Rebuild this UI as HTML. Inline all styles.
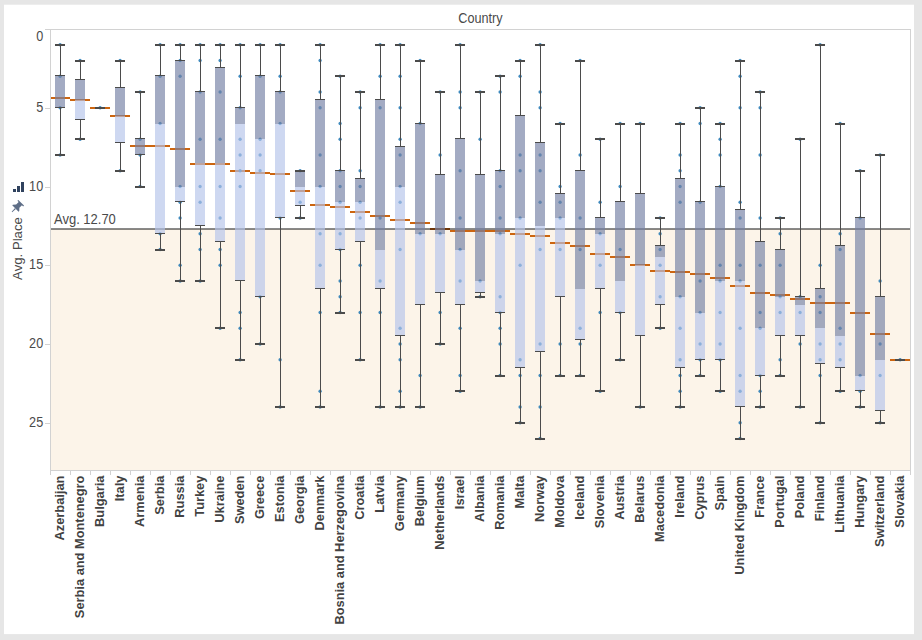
<!DOCTYPE html>
<html><head><meta charset="utf-8"><title>Country</title>
<style>
html,body{margin:0;padding:0;background:#e6e6e6;}
body{width:922px;height:640px;overflow:hidden;position:relative;font-family:"Liberation Sans",sans-serif;}
svg{position:absolute;left:0;top:0;display:block;}
text{font-family:"Liberation Sans",sans-serif;font-size:13px;fill:#4a4a4a;}
.b{font-weight:bold;fill:#424242;}
</style></head><body>
<svg width="922" height="640" viewBox="0 0 922 640">
<rect x="0" y="0" width="922" height="640" fill="#e6e6e6"/>
<rect x="4" y="4.7" width="910" height="629.4" fill="#ffffff"/>
<rect x="51" y="229" width="860" height="242" fill="#fcf4e9"/>
<g shape-rendering="crispEdges" fill="#cc6510">
<rect x="50" y="97" width="20" height="2" />
<rect x="70" y="99" width="20" height="2" />
<rect x="90" y="107" width="20" height="2" />
<rect x="110" y="115" width="20" height="2" />
<rect x="130" y="145" width="20" height="2" />
<rect x="150" y="145" width="20" height="2" />
<rect x="170" y="148" width="20" height="2" />
<rect x="190" y="163" width="20" height="2" />
<rect x="210" y="163" width="20" height="2" />
<rect x="230" y="170" width="20" height="2" />
<rect x="250" y="172" width="20" height="2" />
<rect x="270" y="173" width="20" height="2" />
<rect x="290" y="190" width="20" height="2" />
<rect x="310" y="204" width="20" height="2" />
<rect x="330" y="206" width="20" height="2" />
<rect x="350" y="211" width="20" height="2" />
<rect x="370" y="215" width="20" height="2" />
<rect x="390" y="219" width="20" height="2" />
<rect x="410" y="222" width="20" height="2" />
<rect x="430" y="228" width="20" height="2" />
<rect x="450" y="230" width="20" height="2" />
<rect x="470" y="230" width="20" height="2" />
<rect x="490" y="230" width="20" height="2" />
<rect x="510" y="233" width="20" height="2" />
<rect x="530" y="235" width="20" height="2" />
<rect x="550" y="242" width="20" height="2" />
<rect x="570" y="245" width="20" height="2" />
<rect x="590" y="253" width="20" height="2" />
<rect x="610" y="256" width="20" height="2" />
<rect x="630" y="264" width="20" height="2" />
<rect x="650" y="270" width="20" height="2" />
<rect x="670" y="271" width="20" height="2" />
<rect x="690" y="273" width="20" height="2" />
<rect x="710" y="277" width="20" height="2" />
<rect x="730" y="285" width="20" height="2" />
<rect x="750" y="292" width="20" height="2" />
<rect x="770" y="294" width="20" height="2" />
<rect x="790" y="298" width="20" height="2" />
<rect x="810" y="302" width="20" height="2" />
<rect x="830" y="302" width="20" height="2" />
<rect x="850" y="312" width="20" height="2" />
<rect x="870" y="333" width="20" height="2" />
<rect x="890" y="359" width="20" height="2" />
</g>
<rect x="51" y="228" width="860" height="2" fill="#000000" fill-opacity="0.46" shape-rendering="crispEdges"/>
<g fill="#1f77b4" fill-opacity="0.85">
<circle cx="60.1" cy="44.75" r="1.65"/>
<circle cx="60.1" cy="76.25" r="1.65"/>
<circle cx="60.1" cy="107.75" r="1.65"/>
<circle cx="60.1" cy="155.00" r="1.65"/>
<circle cx="80.1" cy="60.50" r="1.65"/>
<circle cx="80.1" cy="139.25" r="1.65"/>
<circle cx="100.1" cy="107.75" r="1.65"/>
<circle cx="120.1" cy="60.50" r="1.65"/>
<circle cx="120.1" cy="170.75" r="1.65"/>
<circle cx="140.1" cy="92.00" r="1.65"/>
<circle cx="140.1" cy="139.25" r="1.65"/>
<circle cx="140.1" cy="155.00" r="1.65"/>
<circle cx="140.1" cy="186.50" r="1.65"/>
<circle cx="160.1" cy="44.75" r="1.65"/>
<circle cx="160.1" cy="76.25" r="1.65"/>
<circle cx="160.1" cy="123.50" r="1.65"/>
<circle cx="160.1" cy="233.75" r="1.65"/>
<circle cx="160.1" cy="249.50" r="1.65"/>
<circle cx="180.1" cy="44.75" r="1.65"/>
<circle cx="180.1" cy="60.50" r="1.65"/>
<circle cx="180.1" cy="76.25" r="1.65"/>
<circle cx="180.1" cy="186.50" r="1.65"/>
<circle cx="180.1" cy="202.25" r="1.65"/>
<circle cx="180.1" cy="218.00" r="1.65"/>
<circle cx="180.1" cy="265.25" r="1.65"/>
<circle cx="180.1" cy="281.00" r="1.65"/>
<circle cx="200.1" cy="44.75" r="1.65"/>
<circle cx="200.1" cy="60.50" r="1.65"/>
<circle cx="200.1" cy="92.00" r="1.65"/>
<circle cx="200.1" cy="139.25" r="1.65"/>
<circle cx="200.1" cy="186.50" r="1.65"/>
<circle cx="200.1" cy="202.25" r="1.65"/>
<circle cx="200.1" cy="233.75" r="1.65"/>
<circle cx="200.1" cy="249.50" r="1.65"/>
<circle cx="200.1" cy="281.00" r="1.65"/>
<circle cx="220.1" cy="44.75" r="1.65"/>
<circle cx="220.1" cy="60.50" r="1.65"/>
<circle cx="220.1" cy="92.00" r="1.65"/>
<circle cx="220.1" cy="139.25" r="1.65"/>
<circle cx="220.1" cy="186.50" r="1.65"/>
<circle cx="220.1" cy="218.00" r="1.65"/>
<circle cx="220.1" cy="249.50" r="1.65"/>
<circle cx="220.1" cy="265.25" r="1.65"/>
<circle cx="220.1" cy="328.25" r="1.65"/>
<circle cx="240.1" cy="44.75" r="1.65"/>
<circle cx="240.1" cy="76.25" r="1.65"/>
<circle cx="240.1" cy="107.75" r="1.65"/>
<circle cx="240.1" cy="139.25" r="1.65"/>
<circle cx="240.1" cy="155.00" r="1.65"/>
<circle cx="240.1" cy="170.75" r="1.65"/>
<circle cx="240.1" cy="186.50" r="1.65"/>
<circle cx="240.1" cy="312.50" r="1.65"/>
<circle cx="240.1" cy="328.25" r="1.65"/>
<circle cx="240.1" cy="359.75" r="1.65"/>
<circle cx="260.1" cy="44.75" r="1.65"/>
<circle cx="260.1" cy="76.25" r="1.65"/>
<circle cx="260.1" cy="139.25" r="1.65"/>
<circle cx="260.1" cy="155.00" r="1.65"/>
<circle cx="260.1" cy="170.75" r="1.65"/>
<circle cx="260.1" cy="296.75" r="1.65"/>
<circle cx="260.1" cy="344.00" r="1.65"/>
<circle cx="280.1" cy="44.75" r="1.65"/>
<circle cx="280.1" cy="76.25" r="1.65"/>
<circle cx="280.1" cy="92.00" r="1.65"/>
<circle cx="280.1" cy="123.50" r="1.65"/>
<circle cx="280.1" cy="218.00" r="1.65"/>
<circle cx="280.1" cy="359.75" r="1.65"/>
<circle cx="280.1" cy="407.00" r="1.65"/>
<circle cx="300.1" cy="170.75" r="1.65"/>
<circle cx="300.1" cy="202.25" r="1.65"/>
<circle cx="300.1" cy="218.00" r="1.65"/>
<circle cx="320.1" cy="44.75" r="1.65"/>
<circle cx="320.1" cy="60.50" r="1.65"/>
<circle cx="320.1" cy="92.00" r="1.65"/>
<circle cx="320.1" cy="107.75" r="1.65"/>
<circle cx="320.1" cy="155.00" r="1.65"/>
<circle cx="320.1" cy="186.50" r="1.65"/>
<circle cx="320.1" cy="233.75" r="1.65"/>
<circle cx="320.1" cy="265.25" r="1.65"/>
<circle cx="320.1" cy="312.50" r="1.65"/>
<circle cx="320.1" cy="391.25" r="1.65"/>
<circle cx="320.1" cy="407.00" r="1.65"/>
<circle cx="340.1" cy="76.25" r="1.65"/>
<circle cx="340.1" cy="123.50" r="1.65"/>
<circle cx="340.1" cy="139.25" r="1.65"/>
<circle cx="340.1" cy="170.75" r="1.65"/>
<circle cx="340.1" cy="186.50" r="1.65"/>
<circle cx="340.1" cy="202.25" r="1.65"/>
<circle cx="340.1" cy="233.75" r="1.65"/>
<circle cx="340.1" cy="249.50" r="1.65"/>
<circle cx="340.1" cy="281.00" r="1.65"/>
<circle cx="340.1" cy="296.75" r="1.65"/>
<circle cx="340.1" cy="312.50" r="1.65"/>
<circle cx="360.1" cy="92.00" r="1.65"/>
<circle cx="360.1" cy="107.75" r="1.65"/>
<circle cx="360.1" cy="170.75" r="1.65"/>
<circle cx="360.1" cy="186.50" r="1.65"/>
<circle cx="360.1" cy="202.25" r="1.65"/>
<circle cx="360.1" cy="218.00" r="1.65"/>
<circle cx="360.1" cy="265.25" r="1.65"/>
<circle cx="360.1" cy="312.50" r="1.65"/>
<circle cx="360.1" cy="359.75" r="1.65"/>
<circle cx="380.1" cy="44.75" r="1.65"/>
<circle cx="380.1" cy="76.25" r="1.65"/>
<circle cx="380.1" cy="107.75" r="1.65"/>
<circle cx="380.1" cy="218.00" r="1.65"/>
<circle cx="380.1" cy="281.00" r="1.65"/>
<circle cx="380.1" cy="312.50" r="1.65"/>
<circle cx="380.1" cy="407.00" r="1.65"/>
<circle cx="400.1" cy="44.75" r="1.65"/>
<circle cx="400.1" cy="76.25" r="1.65"/>
<circle cx="400.1" cy="107.75" r="1.65"/>
<circle cx="400.1" cy="139.25" r="1.65"/>
<circle cx="400.1" cy="155.00" r="1.65"/>
<circle cx="400.1" cy="186.50" r="1.65"/>
<circle cx="400.1" cy="202.25" r="1.65"/>
<circle cx="400.1" cy="249.50" r="1.65"/>
<circle cx="400.1" cy="328.25" r="1.65"/>
<circle cx="400.1" cy="344.00" r="1.65"/>
<circle cx="400.1" cy="359.75" r="1.65"/>
<circle cx="400.1" cy="391.25" r="1.65"/>
<circle cx="400.1" cy="407.00" r="1.65"/>
<circle cx="420.1" cy="60.50" r="1.65"/>
<circle cx="420.1" cy="123.50" r="1.65"/>
<circle cx="420.1" cy="233.75" r="1.65"/>
<circle cx="420.1" cy="375.50" r="1.65"/>
<circle cx="420.1" cy="407.00" r="1.65"/>
<circle cx="440.1" cy="92.00" r="1.65"/>
<circle cx="440.1" cy="155.00" r="1.65"/>
<circle cx="440.1" cy="233.75" r="1.65"/>
<circle cx="440.1" cy="312.50" r="1.65"/>
<circle cx="440.1" cy="344.00" r="1.65"/>
<circle cx="460.1" cy="44.75" r="1.65"/>
<circle cx="460.1" cy="92.00" r="1.65"/>
<circle cx="460.1" cy="107.75" r="1.65"/>
<circle cx="460.1" cy="170.75" r="1.65"/>
<circle cx="460.1" cy="218.00" r="1.65"/>
<circle cx="460.1" cy="249.50" r="1.65"/>
<circle cx="460.1" cy="281.00" r="1.65"/>
<circle cx="460.1" cy="328.25" r="1.65"/>
<circle cx="460.1" cy="375.50" r="1.65"/>
<circle cx="460.1" cy="391.25" r="1.65"/>
<circle cx="480.1" cy="92.00" r="1.65"/>
<circle cx="480.1" cy="139.25" r="1.65"/>
<circle cx="480.1" cy="281.00" r="1.65"/>
<circle cx="480.1" cy="296.75" r="1.65"/>
<circle cx="500.1" cy="76.25" r="1.65"/>
<circle cx="500.1" cy="92.00" r="1.65"/>
<circle cx="500.1" cy="170.75" r="1.65"/>
<circle cx="500.1" cy="186.50" r="1.65"/>
<circle cx="500.1" cy="218.00" r="1.65"/>
<circle cx="500.1" cy="233.75" r="1.65"/>
<circle cx="500.1" cy="296.75" r="1.65"/>
<circle cx="500.1" cy="312.50" r="1.65"/>
<circle cx="500.1" cy="328.25" r="1.65"/>
<circle cx="500.1" cy="344.00" r="1.65"/>
<circle cx="500.1" cy="375.50" r="1.65"/>
<circle cx="520.1" cy="60.50" r="1.65"/>
<circle cx="520.1" cy="76.25" r="1.65"/>
<circle cx="520.1" cy="155.00" r="1.65"/>
<circle cx="520.1" cy="170.75" r="1.65"/>
<circle cx="520.1" cy="218.00" r="1.65"/>
<circle cx="520.1" cy="265.25" r="1.65"/>
<circle cx="520.1" cy="359.75" r="1.65"/>
<circle cx="520.1" cy="375.50" r="1.65"/>
<circle cx="520.1" cy="407.00" r="1.65"/>
<circle cx="520.1" cy="422.75" r="1.65"/>
<circle cx="540.1" cy="44.75" r="1.65"/>
<circle cx="540.1" cy="92.00" r="1.65"/>
<circle cx="540.1" cy="107.75" r="1.65"/>
<circle cx="540.1" cy="155.00" r="1.65"/>
<circle cx="540.1" cy="170.75" r="1.65"/>
<circle cx="540.1" cy="202.25" r="1.65"/>
<circle cx="540.1" cy="249.50" r="1.65"/>
<circle cx="540.1" cy="344.00" r="1.65"/>
<circle cx="540.1" cy="375.50" r="1.65"/>
<circle cx="540.1" cy="407.00" r="1.65"/>
<circle cx="540.1" cy="438.50" r="1.65"/>
<circle cx="560.1" cy="123.50" r="1.65"/>
<circle cx="560.1" cy="186.50" r="1.65"/>
<circle cx="560.1" cy="202.25" r="1.65"/>
<circle cx="560.1" cy="218.00" r="1.65"/>
<circle cx="560.1" cy="249.50" r="1.65"/>
<circle cx="560.1" cy="344.00" r="1.65"/>
<circle cx="560.1" cy="375.50" r="1.65"/>
<circle cx="580.1" cy="60.50" r="1.65"/>
<circle cx="580.1" cy="155.00" r="1.65"/>
<circle cx="580.1" cy="218.00" r="1.65"/>
<circle cx="580.1" cy="249.50" r="1.65"/>
<circle cx="580.1" cy="328.25" r="1.65"/>
<circle cx="580.1" cy="344.00" r="1.65"/>
<circle cx="580.1" cy="375.50" r="1.65"/>
<circle cx="600.1" cy="139.25" r="1.65"/>
<circle cx="600.1" cy="202.25" r="1.65"/>
<circle cx="600.1" cy="233.75" r="1.65"/>
<circle cx="600.1" cy="265.25" r="1.65"/>
<circle cx="600.1" cy="312.50" r="1.65"/>
<circle cx="600.1" cy="391.25" r="1.65"/>
<circle cx="620.1" cy="123.50" r="1.65"/>
<circle cx="620.1" cy="186.50" r="1.65"/>
<circle cx="620.1" cy="249.50" r="1.65"/>
<circle cx="620.1" cy="312.50" r="1.65"/>
<circle cx="620.1" cy="359.75" r="1.65"/>
<circle cx="640.1" cy="123.50" r="1.65"/>
<circle cx="640.1" cy="407.00" r="1.65"/>
<circle cx="660.1" cy="218.00" r="1.65"/>
<circle cx="660.1" cy="233.75" r="1.65"/>
<circle cx="660.1" cy="249.50" r="1.65"/>
<circle cx="660.1" cy="265.25" r="1.65"/>
<circle cx="660.1" cy="296.75" r="1.65"/>
<circle cx="660.1" cy="328.25" r="1.65"/>
<circle cx="680.1" cy="123.50" r="1.65"/>
<circle cx="680.1" cy="155.00" r="1.65"/>
<circle cx="680.1" cy="170.75" r="1.65"/>
<circle cx="680.1" cy="186.50" r="1.65"/>
<circle cx="680.1" cy="202.25" r="1.65"/>
<circle cx="680.1" cy="296.75" r="1.65"/>
<circle cx="680.1" cy="328.25" r="1.65"/>
<circle cx="680.1" cy="359.75" r="1.65"/>
<circle cx="680.1" cy="375.50" r="1.65"/>
<circle cx="680.1" cy="391.25" r="1.65"/>
<circle cx="680.1" cy="407.00" r="1.65"/>
<circle cx="700.1" cy="107.75" r="1.65"/>
<circle cx="700.1" cy="123.50" r="1.65"/>
<circle cx="700.1" cy="202.25" r="1.65"/>
<circle cx="700.1" cy="281.00" r="1.65"/>
<circle cx="700.1" cy="312.50" r="1.65"/>
<circle cx="700.1" cy="344.00" r="1.65"/>
<circle cx="700.1" cy="359.75" r="1.65"/>
<circle cx="700.1" cy="375.50" r="1.65"/>
<circle cx="720.1" cy="123.50" r="1.65"/>
<circle cx="720.1" cy="139.25" r="1.65"/>
<circle cx="720.1" cy="155.00" r="1.65"/>
<circle cx="720.1" cy="186.50" r="1.65"/>
<circle cx="720.1" cy="265.25" r="1.65"/>
<circle cx="720.1" cy="281.00" r="1.65"/>
<circle cx="720.1" cy="312.50" r="1.65"/>
<circle cx="720.1" cy="344.00" r="1.65"/>
<circle cx="720.1" cy="359.75" r="1.65"/>
<circle cx="720.1" cy="391.25" r="1.65"/>
<circle cx="740.1" cy="60.50" r="1.65"/>
<circle cx="740.1" cy="76.25" r="1.65"/>
<circle cx="740.1" cy="107.75" r="1.65"/>
<circle cx="740.1" cy="202.25" r="1.65"/>
<circle cx="740.1" cy="218.00" r="1.65"/>
<circle cx="740.1" cy="265.25" r="1.65"/>
<circle cx="740.1" cy="281.00" r="1.65"/>
<circle cx="740.1" cy="328.25" r="1.65"/>
<circle cx="740.1" cy="375.50" r="1.65"/>
<circle cx="740.1" cy="391.25" r="1.65"/>
<circle cx="740.1" cy="422.75" r="1.65"/>
<circle cx="740.1" cy="438.50" r="1.65"/>
<circle cx="760.1" cy="92.00" r="1.65"/>
<circle cx="760.1" cy="107.75" r="1.65"/>
<circle cx="760.1" cy="155.00" r="1.65"/>
<circle cx="760.1" cy="218.00" r="1.65"/>
<circle cx="760.1" cy="265.25" r="1.65"/>
<circle cx="760.1" cy="312.50" r="1.65"/>
<circle cx="760.1" cy="328.25" r="1.65"/>
<circle cx="760.1" cy="375.50" r="1.65"/>
<circle cx="760.1" cy="391.25" r="1.65"/>
<circle cx="760.1" cy="407.00" r="1.65"/>
<circle cx="780.1" cy="218.00" r="1.65"/>
<circle cx="780.1" cy="233.75" r="1.65"/>
<circle cx="780.1" cy="265.25" r="1.65"/>
<circle cx="780.1" cy="296.75" r="1.65"/>
<circle cx="780.1" cy="312.50" r="1.65"/>
<circle cx="780.1" cy="359.75" r="1.65"/>
<circle cx="780.1" cy="375.50" r="1.65"/>
<circle cx="800.1" cy="139.25" r="1.65"/>
<circle cx="800.1" cy="296.75" r="1.65"/>
<circle cx="800.1" cy="312.50" r="1.65"/>
<circle cx="800.1" cy="344.00" r="1.65"/>
<circle cx="800.1" cy="407.00" r="1.65"/>
<circle cx="820.1" cy="44.75" r="1.65"/>
<circle cx="820.1" cy="265.25" r="1.65"/>
<circle cx="820.1" cy="296.75" r="1.65"/>
<circle cx="820.1" cy="312.50" r="1.65"/>
<circle cx="820.1" cy="344.00" r="1.65"/>
<circle cx="820.1" cy="359.75" r="1.65"/>
<circle cx="820.1" cy="375.50" r="1.65"/>
<circle cx="820.1" cy="422.75" r="1.65"/>
<circle cx="840.1" cy="123.50" r="1.65"/>
<circle cx="840.1" cy="233.75" r="1.65"/>
<circle cx="840.1" cy="249.50" r="1.65"/>
<circle cx="840.1" cy="328.25" r="1.65"/>
<circle cx="840.1" cy="344.00" r="1.65"/>
<circle cx="840.1" cy="359.75" r="1.65"/>
<circle cx="840.1" cy="391.25" r="1.65"/>
<circle cx="860.1" cy="170.75" r="1.65"/>
<circle cx="860.1" cy="218.00" r="1.65"/>
<circle cx="860.1" cy="375.50" r="1.65"/>
<circle cx="860.1" cy="391.25" r="1.65"/>
<circle cx="860.1" cy="407.00" r="1.65"/>
<circle cx="880.1" cy="155.00" r="1.65"/>
<circle cx="880.1" cy="281.00" r="1.65"/>
<circle cx="880.1" cy="344.00" r="1.65"/>
<circle cx="880.1" cy="375.50" r="1.65"/>
<circle cx="880.1" cy="422.75" r="1.65"/>
<circle cx="900.1" cy="359.75" r="1.65"/>
</g>
<g shape-rendering="crispEdges">
<rect x="55" y="75" width="10" height="33" fill="rgb(118,130,165)" fill-opacity="0.67"/>
<rect x="60" y="44" width="1" height="31" fill="#4b4b4b"/>
<rect x="55" y="44" width="10" height="2" fill="#4b4b4b"/>
<rect x="60" y="107" width="1" height="49" fill="#4b4b4b"/>
<rect x="55" y="154" width="10" height="2" fill="#4b4b4b"/>
<rect x="55" y="75" width="10" height="1" fill="#4b4b4b"/>
<rect x="55" y="107" width="10" height="1" fill="#4b4b4b"/>
<rect x="75" y="79" width="10" height="21" fill="rgb(118,130,165)" fill-opacity="0.67"/>
<rect x="75" y="100" width="10" height="19" fill="rgb(180,196,234)" fill-opacity="0.66"/>
<rect x="80" y="60" width="1" height="19" fill="#4b4b4b"/>
<rect x="75" y="60" width="10" height="2" fill="#4b4b4b"/>
<rect x="80" y="119" width="1" height="21" fill="#4b4b4b"/>
<rect x="75" y="138" width="10" height="2" fill="#4b4b4b"/>
<rect x="75" y="79" width="10" height="1" fill="#4b4b4b"/>
<rect x="75" y="119" width="10" height="1" fill="#4b4b4b"/>
<rect x="95" y="107" width="10" height="2" fill="#4b4b4b"/>
<rect x="115" y="87" width="10" height="29" fill="rgb(118,130,165)" fill-opacity="0.67"/>
<rect x="115" y="116" width="10" height="26" fill="rgb(180,196,234)" fill-opacity="0.66"/>
<rect x="120" y="60" width="1" height="27" fill="#4b4b4b"/>
<rect x="115" y="60" width="10" height="2" fill="#4b4b4b"/>
<rect x="120" y="142" width="1" height="30" fill="#4b4b4b"/>
<rect x="115" y="170" width="10" height="2" fill="#4b4b4b"/>
<rect x="115" y="87" width="10" height="1" fill="#4b4b4b"/>
<rect x="115" y="142" width="10" height="1" fill="#4b4b4b"/>
<rect x="135" y="138" width="10" height="17" fill="rgb(118,130,165)" fill-opacity="0.67"/>
<rect x="140" y="91" width="1" height="47" fill="#4b4b4b"/>
<rect x="135" y="91" width="10" height="2" fill="#4b4b4b"/>
<rect x="140" y="154" width="1" height="34" fill="#4b4b4b"/>
<rect x="135" y="186" width="10" height="2" fill="#4b4b4b"/>
<rect x="135" y="138" width="10" height="1" fill="#4b4b4b"/>
<rect x="135" y="154" width="10" height="1" fill="#4b4b4b"/>
<rect x="155" y="75" width="10" height="49" fill="rgb(118,130,165)" fill-opacity="0.67"/>
<rect x="155" y="124" width="10" height="109" fill="rgb(180,196,234)" fill-opacity="0.66"/>
<rect x="160" y="44" width="1" height="31" fill="#4b4b4b"/>
<rect x="155" y="44" width="10" height="2" fill="#4b4b4b"/>
<rect x="160" y="233" width="1" height="18" fill="#4b4b4b"/>
<rect x="155" y="249" width="10" height="2" fill="#4b4b4b"/>
<rect x="155" y="75" width="10" height="1" fill="#4b4b4b"/>
<rect x="155" y="233" width="10" height="1" fill="#4b4b4b"/>
<rect x="175" y="60" width="10" height="127" fill="rgb(118,130,165)" fill-opacity="0.67"/>
<rect x="175" y="187" width="10" height="14" fill="rgb(180,196,234)" fill-opacity="0.66"/>
<rect x="180" y="44" width="1" height="16" fill="#4b4b4b"/>
<rect x="175" y="44" width="10" height="2" fill="#4b4b4b"/>
<rect x="180" y="201" width="1" height="81" fill="#4b4b4b"/>
<rect x="175" y="280" width="10" height="2" fill="#4b4b4b"/>
<rect x="175" y="60" width="10" height="1" fill="#4b4b4b"/>
<rect x="175" y="201" width="10" height="1" fill="#4b4b4b"/>
<rect x="195" y="91" width="10" height="72" fill="rgb(118,130,165)" fill-opacity="0.67"/>
<rect x="195" y="163" width="10" height="62" fill="rgb(180,196,234)" fill-opacity="0.66"/>
<rect x="200" y="44" width="1" height="47" fill="#4b4b4b"/>
<rect x="195" y="44" width="10" height="2" fill="#4b4b4b"/>
<rect x="200" y="225" width="1" height="57" fill="#4b4b4b"/>
<rect x="195" y="280" width="10" height="2" fill="#4b4b4b"/>
<rect x="195" y="91" width="10" height="1" fill="#4b4b4b"/>
<rect x="195" y="225" width="10" height="1" fill="#4b4b4b"/>
<rect x="215" y="67" width="10" height="96" fill="rgb(118,130,165)" fill-opacity="0.67"/>
<rect x="215" y="163" width="10" height="78" fill="rgb(180,196,234)" fill-opacity="0.66"/>
<rect x="220" y="44" width="1" height="23" fill="#4b4b4b"/>
<rect x="215" y="44" width="10" height="2" fill="#4b4b4b"/>
<rect x="220" y="241" width="1" height="88" fill="#4b4b4b"/>
<rect x="215" y="327" width="10" height="2" fill="#4b4b4b"/>
<rect x="215" y="67" width="10" height="1" fill="#4b4b4b"/>
<rect x="215" y="241" width="10" height="1" fill="#4b4b4b"/>
<rect x="235" y="107" width="10" height="17" fill="rgb(118,130,165)" fill-opacity="0.67"/>
<rect x="235" y="124" width="10" height="156" fill="rgb(180,196,234)" fill-opacity="0.66"/>
<rect x="240" y="44" width="1" height="63" fill="#4b4b4b"/>
<rect x="235" y="44" width="10" height="2" fill="#4b4b4b"/>
<rect x="240" y="280" width="1" height="81" fill="#4b4b4b"/>
<rect x="235" y="359" width="10" height="2" fill="#4b4b4b"/>
<rect x="235" y="107" width="10" height="1" fill="#4b4b4b"/>
<rect x="235" y="280" width="10" height="1" fill="#4b4b4b"/>
<rect x="255" y="75" width="10" height="64" fill="rgb(118,130,165)" fill-opacity="0.67"/>
<rect x="255" y="139" width="10" height="157" fill="rgb(180,196,234)" fill-opacity="0.66"/>
<rect x="260" y="44" width="1" height="31" fill="#4b4b4b"/>
<rect x="255" y="44" width="10" height="2" fill="#4b4b4b"/>
<rect x="260" y="296" width="1" height="49" fill="#4b4b4b"/>
<rect x="255" y="343" width="10" height="2" fill="#4b4b4b"/>
<rect x="255" y="75" width="10" height="1" fill="#4b4b4b"/>
<rect x="255" y="296" width="10" height="1" fill="#4b4b4b"/>
<rect x="275" y="91" width="10" height="33" fill="rgb(118,130,165)" fill-opacity="0.67"/>
<rect x="275" y="124" width="10" height="93" fill="rgb(180,196,234)" fill-opacity="0.66"/>
<rect x="280" y="44" width="1" height="47" fill="#4b4b4b"/>
<rect x="275" y="44" width="10" height="2" fill="#4b4b4b"/>
<rect x="280" y="217" width="1" height="191" fill="#4b4b4b"/>
<rect x="275" y="406" width="10" height="2" fill="#4b4b4b"/>
<rect x="275" y="91" width="10" height="1" fill="#4b4b4b"/>
<rect x="275" y="217" width="10" height="1" fill="#4b4b4b"/>
<rect x="295" y="170" width="10" height="17" fill="rgb(118,130,165)" fill-opacity="0.67"/>
<rect x="295" y="187" width="10" height="18" fill="rgb(180,196,234)" fill-opacity="0.66"/>
<rect x="295" y="170" width="10" height="2" fill="#4b4b4b"/>
<rect x="300" y="205" width="1" height="14" fill="#4b4b4b"/>
<rect x="295" y="217" width="10" height="2" fill="#4b4b4b"/>
<rect x="295" y="170" width="10" height="1" fill="#4b4b4b"/>
<rect x="295" y="205" width="10" height="1" fill="#4b4b4b"/>
<rect x="315" y="99" width="10" height="88" fill="rgb(118,130,165)" fill-opacity="0.67"/>
<rect x="315" y="187" width="10" height="101" fill="rgb(180,196,234)" fill-opacity="0.66"/>
<rect x="320" y="44" width="1" height="55" fill="#4b4b4b"/>
<rect x="315" y="44" width="10" height="2" fill="#4b4b4b"/>
<rect x="320" y="288" width="1" height="120" fill="#4b4b4b"/>
<rect x="315" y="406" width="10" height="2" fill="#4b4b4b"/>
<rect x="315" y="99" width="10" height="1" fill="#4b4b4b"/>
<rect x="315" y="288" width="10" height="1" fill="#4b4b4b"/>
<rect x="335" y="170" width="10" height="32" fill="rgb(118,130,165)" fill-opacity="0.67"/>
<rect x="335" y="202" width="10" height="47" fill="rgb(180,196,234)" fill-opacity="0.66"/>
<rect x="340" y="75" width="1" height="95" fill="#4b4b4b"/>
<rect x="335" y="75" width="10" height="2" fill="#4b4b4b"/>
<rect x="340" y="249" width="1" height="65" fill="#4b4b4b"/>
<rect x="335" y="312" width="10" height="2" fill="#4b4b4b"/>
<rect x="335" y="170" width="10" height="1" fill="#4b4b4b"/>
<rect x="335" y="249" width="10" height="1" fill="#4b4b4b"/>
<rect x="355" y="178" width="10" height="24" fill="rgb(118,130,165)" fill-opacity="0.67"/>
<rect x="355" y="202" width="10" height="39" fill="rgb(180,196,234)" fill-opacity="0.66"/>
<rect x="360" y="91" width="1" height="87" fill="#4b4b4b"/>
<rect x="355" y="91" width="10" height="2" fill="#4b4b4b"/>
<rect x="360" y="241" width="1" height="120" fill="#4b4b4b"/>
<rect x="355" y="359" width="10" height="2" fill="#4b4b4b"/>
<rect x="355" y="178" width="10" height="1" fill="#4b4b4b"/>
<rect x="355" y="241" width="10" height="1" fill="#4b4b4b"/>
<rect x="375" y="99" width="10" height="151" fill="rgb(118,130,165)" fill-opacity="0.67"/>
<rect x="375" y="250" width="10" height="38" fill="rgb(180,196,234)" fill-opacity="0.66"/>
<rect x="380" y="44" width="1" height="55" fill="#4b4b4b"/>
<rect x="375" y="44" width="10" height="2" fill="#4b4b4b"/>
<rect x="380" y="288" width="1" height="120" fill="#4b4b4b"/>
<rect x="375" y="406" width="10" height="2" fill="#4b4b4b"/>
<rect x="375" y="99" width="10" height="1" fill="#4b4b4b"/>
<rect x="375" y="288" width="10" height="1" fill="#4b4b4b"/>
<rect x="395" y="146" width="10" height="41" fill="rgb(118,130,165)" fill-opacity="0.67"/>
<rect x="395" y="187" width="10" height="148" fill="rgb(180,196,234)" fill-opacity="0.66"/>
<rect x="400" y="44" width="1" height="102" fill="#4b4b4b"/>
<rect x="395" y="44" width="10" height="2" fill="#4b4b4b"/>
<rect x="400" y="335" width="1" height="73" fill="#4b4b4b"/>
<rect x="395" y="406" width="10" height="2" fill="#4b4b4b"/>
<rect x="395" y="146" width="10" height="1" fill="#4b4b4b"/>
<rect x="395" y="335" width="10" height="1" fill="#4b4b4b"/>
<rect x="415" y="123" width="10" height="111" fill="rgb(118,130,165)" fill-opacity="0.67"/>
<rect x="415" y="234" width="10" height="70" fill="rgb(180,196,234)" fill-opacity="0.66"/>
<rect x="420" y="60" width="1" height="63" fill="#4b4b4b"/>
<rect x="415" y="60" width="10" height="2" fill="#4b4b4b"/>
<rect x="420" y="304" width="1" height="104" fill="#4b4b4b"/>
<rect x="415" y="406" width="10" height="2" fill="#4b4b4b"/>
<rect x="415" y="123" width="10" height="1" fill="#4b4b4b"/>
<rect x="415" y="304" width="10" height="1" fill="#4b4b4b"/>
<rect x="435" y="174" width="10" height="60" fill="rgb(118,130,165)" fill-opacity="0.67"/>
<rect x="435" y="234" width="10" height="58" fill="rgb(180,196,234)" fill-opacity="0.66"/>
<rect x="440" y="91" width="1" height="83" fill="#4b4b4b"/>
<rect x="435" y="91" width="10" height="2" fill="#4b4b4b"/>
<rect x="440" y="292" width="1" height="53" fill="#4b4b4b"/>
<rect x="435" y="343" width="10" height="2" fill="#4b4b4b"/>
<rect x="435" y="174" width="10" height="1" fill="#4b4b4b"/>
<rect x="435" y="292" width="10" height="1" fill="#4b4b4b"/>
<rect x="455" y="138" width="10" height="112" fill="rgb(118,130,165)" fill-opacity="0.67"/>
<rect x="455" y="250" width="10" height="54" fill="rgb(180,196,234)" fill-opacity="0.66"/>
<rect x="460" y="44" width="1" height="94" fill="#4b4b4b"/>
<rect x="455" y="44" width="10" height="2" fill="#4b4b4b"/>
<rect x="460" y="304" width="1" height="88" fill="#4b4b4b"/>
<rect x="455" y="390" width="10" height="2" fill="#4b4b4b"/>
<rect x="455" y="138" width="10" height="1" fill="#4b4b4b"/>
<rect x="455" y="304" width="10" height="1" fill="#4b4b4b"/>
<rect x="475" y="174" width="10" height="107" fill="rgb(118,130,165)" fill-opacity="0.67"/>
<rect x="475" y="281" width="10" height="11" fill="rgb(180,196,234)" fill-opacity="0.66"/>
<rect x="480" y="91" width="1" height="83" fill="#4b4b4b"/>
<rect x="475" y="91" width="10" height="2" fill="#4b4b4b"/>
<rect x="480" y="292" width="1" height="6" fill="#4b4b4b"/>
<rect x="475" y="296" width="10" height="2" fill="#4b4b4b"/>
<rect x="475" y="174" width="10" height="1" fill="#4b4b4b"/>
<rect x="475" y="292" width="10" height="1" fill="#4b4b4b"/>
<rect x="495" y="170" width="10" height="64" fill="rgb(118,130,165)" fill-opacity="0.67"/>
<rect x="495" y="234" width="10" height="78" fill="rgb(180,196,234)" fill-opacity="0.66"/>
<rect x="500" y="75" width="1" height="95" fill="#4b4b4b"/>
<rect x="495" y="75" width="10" height="2" fill="#4b4b4b"/>
<rect x="500" y="312" width="1" height="65" fill="#4b4b4b"/>
<rect x="495" y="375" width="10" height="2" fill="#4b4b4b"/>
<rect x="495" y="170" width="10" height="1" fill="#4b4b4b"/>
<rect x="495" y="312" width="10" height="1" fill="#4b4b4b"/>
<rect x="515" y="115" width="10" height="103" fill="rgb(118,130,165)" fill-opacity="0.67"/>
<rect x="515" y="218" width="10" height="149" fill="rgb(180,196,234)" fill-opacity="0.66"/>
<rect x="520" y="60" width="1" height="55" fill="#4b4b4b"/>
<rect x="515" y="60" width="10" height="2" fill="#4b4b4b"/>
<rect x="520" y="367" width="1" height="57" fill="#4b4b4b"/>
<rect x="515" y="422" width="10" height="2" fill="#4b4b4b"/>
<rect x="515" y="115" width="10" height="1" fill="#4b4b4b"/>
<rect x="515" y="367" width="10" height="1" fill="#4b4b4b"/>
<rect x="535" y="142" width="10" height="84" fill="rgb(118,130,165)" fill-opacity="0.67"/>
<rect x="535" y="226" width="10" height="125" fill="rgb(180,196,234)" fill-opacity="0.66"/>
<rect x="540" y="44" width="1" height="98" fill="#4b4b4b"/>
<rect x="535" y="44" width="10" height="2" fill="#4b4b4b"/>
<rect x="540" y="351" width="1" height="89" fill="#4b4b4b"/>
<rect x="535" y="438" width="10" height="2" fill="#4b4b4b"/>
<rect x="535" y="142" width="10" height="1" fill="#4b4b4b"/>
<rect x="535" y="351" width="10" height="1" fill="#4b4b4b"/>
<rect x="555" y="193" width="10" height="25" fill="rgb(118,130,165)" fill-opacity="0.67"/>
<rect x="555" y="218" width="10" height="78" fill="rgb(180,196,234)" fill-opacity="0.66"/>
<rect x="560" y="123" width="1" height="70" fill="#4b4b4b"/>
<rect x="555" y="123" width="10" height="2" fill="#4b4b4b"/>
<rect x="560" y="296" width="1" height="81" fill="#4b4b4b"/>
<rect x="555" y="375" width="10" height="2" fill="#4b4b4b"/>
<rect x="555" y="193" width="10" height="1" fill="#4b4b4b"/>
<rect x="555" y="296" width="10" height="1" fill="#4b4b4b"/>
<rect x="575" y="170" width="10" height="119" fill="rgb(118,130,165)" fill-opacity="0.67"/>
<rect x="575" y="289" width="10" height="50" fill="rgb(180,196,234)" fill-opacity="0.66"/>
<rect x="580" y="60" width="1" height="110" fill="#4b4b4b"/>
<rect x="575" y="60" width="10" height="2" fill="#4b4b4b"/>
<rect x="580" y="339" width="1" height="38" fill="#4b4b4b"/>
<rect x="575" y="375" width="10" height="2" fill="#4b4b4b"/>
<rect x="575" y="170" width="10" height="1" fill="#4b4b4b"/>
<rect x="575" y="339" width="10" height="1" fill="#4b4b4b"/>
<rect x="595" y="217" width="10" height="17" fill="rgb(118,130,165)" fill-opacity="0.67"/>
<rect x="595" y="234" width="10" height="54" fill="rgb(180,196,234)" fill-opacity="0.66"/>
<rect x="600" y="138" width="1" height="79" fill="#4b4b4b"/>
<rect x="595" y="138" width="10" height="2" fill="#4b4b4b"/>
<rect x="600" y="288" width="1" height="104" fill="#4b4b4b"/>
<rect x="595" y="390" width="10" height="2" fill="#4b4b4b"/>
<rect x="595" y="217" width="10" height="1" fill="#4b4b4b"/>
<rect x="595" y="288" width="10" height="1" fill="#4b4b4b"/>
<rect x="615" y="201" width="10" height="80" fill="rgb(118,130,165)" fill-opacity="0.67"/>
<rect x="615" y="281" width="10" height="31" fill="rgb(180,196,234)" fill-opacity="0.66"/>
<rect x="620" y="123" width="1" height="78" fill="#4b4b4b"/>
<rect x="615" y="123" width="10" height="2" fill="#4b4b4b"/>
<rect x="620" y="312" width="1" height="49" fill="#4b4b4b"/>
<rect x="615" y="359" width="10" height="2" fill="#4b4b4b"/>
<rect x="615" y="201" width="10" height="1" fill="#4b4b4b"/>
<rect x="615" y="312" width="10" height="1" fill="#4b4b4b"/>
<rect x="635" y="193" width="10" height="72" fill="rgb(118,130,165)" fill-opacity="0.67"/>
<rect x="635" y="265" width="10" height="70" fill="rgb(180,196,234)" fill-opacity="0.66"/>
<rect x="640" y="123" width="1" height="70" fill="#4b4b4b"/>
<rect x="635" y="123" width="10" height="2" fill="#4b4b4b"/>
<rect x="640" y="335" width="1" height="73" fill="#4b4b4b"/>
<rect x="635" y="406" width="10" height="2" fill="#4b4b4b"/>
<rect x="635" y="193" width="10" height="1" fill="#4b4b4b"/>
<rect x="635" y="335" width="10" height="1" fill="#4b4b4b"/>
<rect x="655" y="245" width="10" height="12" fill="rgb(118,130,165)" fill-opacity="0.67"/>
<rect x="655" y="257" width="10" height="47" fill="rgb(180,196,234)" fill-opacity="0.66"/>
<rect x="660" y="217" width="1" height="28" fill="#4b4b4b"/>
<rect x="655" y="217" width="10" height="2" fill="#4b4b4b"/>
<rect x="660" y="304" width="1" height="25" fill="#4b4b4b"/>
<rect x="655" y="327" width="10" height="2" fill="#4b4b4b"/>
<rect x="655" y="245" width="10" height="1" fill="#4b4b4b"/>
<rect x="655" y="304" width="10" height="1" fill="#4b4b4b"/>
<rect x="675" y="178" width="10" height="119" fill="rgb(118,130,165)" fill-opacity="0.67"/>
<rect x="675" y="297" width="10" height="70" fill="rgb(180,196,234)" fill-opacity="0.66"/>
<rect x="680" y="123" width="1" height="55" fill="#4b4b4b"/>
<rect x="675" y="123" width="10" height="2" fill="#4b4b4b"/>
<rect x="680" y="367" width="1" height="41" fill="#4b4b4b"/>
<rect x="675" y="406" width="10" height="2" fill="#4b4b4b"/>
<rect x="675" y="178" width="10" height="1" fill="#4b4b4b"/>
<rect x="675" y="367" width="10" height="1" fill="#4b4b4b"/>
<rect x="695" y="201" width="10" height="112" fill="rgb(118,130,165)" fill-opacity="0.67"/>
<rect x="695" y="313" width="10" height="46" fill="rgb(180,196,234)" fill-opacity="0.66"/>
<rect x="700" y="107" width="1" height="94" fill="#4b4b4b"/>
<rect x="695" y="107" width="10" height="2" fill="#4b4b4b"/>
<rect x="700" y="359" width="1" height="18" fill="#4b4b4b"/>
<rect x="695" y="375" width="10" height="2" fill="#4b4b4b"/>
<rect x="695" y="201" width="10" height="1" fill="#4b4b4b"/>
<rect x="695" y="359" width="10" height="1" fill="#4b4b4b"/>
<rect x="715" y="186" width="10" height="95" fill="rgb(118,130,165)" fill-opacity="0.67"/>
<rect x="715" y="281" width="10" height="78" fill="rgb(180,196,234)" fill-opacity="0.66"/>
<rect x="720" y="123" width="1" height="63" fill="#4b4b4b"/>
<rect x="715" y="123" width="10" height="2" fill="#4b4b4b"/>
<rect x="720" y="359" width="1" height="33" fill="#4b4b4b"/>
<rect x="715" y="390" width="10" height="2" fill="#4b4b4b"/>
<rect x="715" y="186" width="10" height="1" fill="#4b4b4b"/>
<rect x="715" y="359" width="10" height="1" fill="#4b4b4b"/>
<rect x="735" y="209" width="10" height="72" fill="rgb(118,130,165)" fill-opacity="0.67"/>
<rect x="735" y="281" width="10" height="125" fill="rgb(180,196,234)" fill-opacity="0.66"/>
<rect x="740" y="60" width="1" height="149" fill="#4b4b4b"/>
<rect x="735" y="60" width="10" height="2" fill="#4b4b4b"/>
<rect x="740" y="406" width="1" height="34" fill="#4b4b4b"/>
<rect x="735" y="438" width="10" height="2" fill="#4b4b4b"/>
<rect x="735" y="209" width="10" height="1" fill="#4b4b4b"/>
<rect x="735" y="406" width="10" height="1" fill="#4b4b4b"/>
<rect x="755" y="241" width="10" height="87" fill="rgb(118,130,165)" fill-opacity="0.67"/>
<rect x="755" y="328" width="10" height="47" fill="rgb(180,196,234)" fill-opacity="0.66"/>
<rect x="760" y="91" width="1" height="150" fill="#4b4b4b"/>
<rect x="755" y="91" width="10" height="2" fill="#4b4b4b"/>
<rect x="760" y="375" width="1" height="33" fill="#4b4b4b"/>
<rect x="755" y="406" width="10" height="2" fill="#4b4b4b"/>
<rect x="755" y="241" width="10" height="1" fill="#4b4b4b"/>
<rect x="755" y="375" width="10" height="1" fill="#4b4b4b"/>
<rect x="775" y="249" width="10" height="48" fill="rgb(118,130,165)" fill-opacity="0.67"/>
<rect x="775" y="297" width="10" height="38" fill="rgb(180,196,234)" fill-opacity="0.66"/>
<rect x="780" y="217" width="1" height="32" fill="#4b4b4b"/>
<rect x="775" y="217" width="10" height="2" fill="#4b4b4b"/>
<rect x="780" y="335" width="1" height="42" fill="#4b4b4b"/>
<rect x="775" y="375" width="10" height="2" fill="#4b4b4b"/>
<rect x="775" y="249" width="10" height="1" fill="#4b4b4b"/>
<rect x="775" y="335" width="10" height="1" fill="#4b4b4b"/>
<rect x="795" y="296" width="10" height="9" fill="rgb(118,130,165)" fill-opacity="0.67"/>
<rect x="795" y="305" width="10" height="30" fill="rgb(180,196,234)" fill-opacity="0.66"/>
<rect x="800" y="138" width="1" height="158" fill="#4b4b4b"/>
<rect x="795" y="138" width="10" height="2" fill="#4b4b4b"/>
<rect x="800" y="335" width="1" height="73" fill="#4b4b4b"/>
<rect x="795" y="406" width="10" height="2" fill="#4b4b4b"/>
<rect x="795" y="296" width="10" height="1" fill="#4b4b4b"/>
<rect x="795" y="335" width="10" height="1" fill="#4b4b4b"/>
<rect x="815" y="288" width="10" height="40" fill="rgb(118,130,165)" fill-opacity="0.67"/>
<rect x="815" y="328" width="10" height="35" fill="rgb(180,196,234)" fill-opacity="0.66"/>
<rect x="820" y="44" width="1" height="244" fill="#4b4b4b"/>
<rect x="815" y="44" width="10" height="2" fill="#4b4b4b"/>
<rect x="820" y="363" width="1" height="61" fill="#4b4b4b"/>
<rect x="815" y="422" width="10" height="2" fill="#4b4b4b"/>
<rect x="815" y="288" width="10" height="1" fill="#4b4b4b"/>
<rect x="815" y="363" width="10" height="1" fill="#4b4b4b"/>
<rect x="835" y="245" width="10" height="91" fill="rgb(118,130,165)" fill-opacity="0.67"/>
<rect x="835" y="336" width="10" height="31" fill="rgb(180,196,234)" fill-opacity="0.66"/>
<rect x="840" y="123" width="1" height="122" fill="#4b4b4b"/>
<rect x="835" y="123" width="10" height="2" fill="#4b4b4b"/>
<rect x="840" y="367" width="1" height="25" fill="#4b4b4b"/>
<rect x="835" y="390" width="10" height="2" fill="#4b4b4b"/>
<rect x="835" y="245" width="10" height="1" fill="#4b4b4b"/>
<rect x="835" y="367" width="10" height="1" fill="#4b4b4b"/>
<rect x="855" y="217" width="10" height="159" fill="rgb(118,130,165)" fill-opacity="0.67"/>
<rect x="855" y="376" width="10" height="14" fill="rgb(180,196,234)" fill-opacity="0.66"/>
<rect x="860" y="170" width="1" height="47" fill="#4b4b4b"/>
<rect x="855" y="170" width="10" height="2" fill="#4b4b4b"/>
<rect x="860" y="390" width="1" height="18" fill="#4b4b4b"/>
<rect x="855" y="406" width="10" height="2" fill="#4b4b4b"/>
<rect x="855" y="217" width="10" height="1" fill="#4b4b4b"/>
<rect x="855" y="390" width="10" height="1" fill="#4b4b4b"/>
<rect x="875" y="296" width="10" height="64" fill="rgb(118,130,165)" fill-opacity="0.67"/>
<rect x="875" y="360" width="10" height="50" fill="rgb(180,196,234)" fill-opacity="0.66"/>
<rect x="880" y="154" width="1" height="142" fill="#4b4b4b"/>
<rect x="875" y="154" width="10" height="2" fill="#4b4b4b"/>
<rect x="880" y="410" width="1" height="14" fill="#4b4b4b"/>
<rect x="875" y="422" width="10" height="2" fill="#4b4b4b"/>
<rect x="875" y="296" width="10" height="1" fill="#4b4b4b"/>
<rect x="875" y="410" width="10" height="1" fill="#4b4b4b"/>
<rect x="895" y="359" width="10" height="2" fill="#4b4b4b"/>
</g>
<g shape-rendering="crispEdges">
<rect x="50" y="29" width="861" height="1" fill="#d2d2d2"/>
<rect x="50" y="470" width="861" height="1" fill="#d2d2d2"/>
<rect x="50" y="29" width="1" height="442" fill="#d2d2d2"/>
<rect x="910" y="29" width="1" height="442" fill="#d2d2d2"/>
<rect x="45" y="29" width="5" height="1" fill="#d2d2d2"/>
<rect x="45" y="108" width="5" height="1" fill="#d2d2d2"/>
<rect x="45" y="187" width="5" height="1" fill="#d2d2d2"/>
<rect x="45" y="265" width="5" height="1" fill="#d2d2d2"/>
<rect x="45" y="344" width="5" height="1" fill="#d2d2d2"/>
<rect x="45" y="423" width="5" height="1" fill="#d2d2d2"/>
<rect x="50" y="471" width="1" height="4" fill="#d2d2d2"/>
<rect x="70" y="471" width="1" height="4" fill="#d2d2d2"/>
<rect x="90" y="471" width="1" height="4" fill="#d2d2d2"/>
<rect x="110" y="471" width="1" height="4" fill="#d2d2d2"/>
<rect x="130" y="471" width="1" height="4" fill="#d2d2d2"/>
<rect x="150" y="471" width="1" height="4" fill="#d2d2d2"/>
<rect x="170" y="471" width="1" height="4" fill="#d2d2d2"/>
<rect x="190" y="471" width="1" height="4" fill="#d2d2d2"/>
<rect x="210" y="471" width="1" height="4" fill="#d2d2d2"/>
<rect x="230" y="471" width="1" height="4" fill="#d2d2d2"/>
<rect x="250" y="471" width="1" height="4" fill="#d2d2d2"/>
<rect x="270" y="471" width="1" height="4" fill="#d2d2d2"/>
<rect x="290" y="471" width="1" height="4" fill="#d2d2d2"/>
<rect x="310" y="471" width="1" height="4" fill="#d2d2d2"/>
<rect x="330" y="471" width="1" height="4" fill="#d2d2d2"/>
<rect x="350" y="471" width="1" height="4" fill="#d2d2d2"/>
<rect x="370" y="471" width="1" height="4" fill="#d2d2d2"/>
<rect x="390" y="471" width="1" height="4" fill="#d2d2d2"/>
<rect x="410" y="471" width="1" height="4" fill="#d2d2d2"/>
<rect x="430" y="471" width="1" height="4" fill="#d2d2d2"/>
<rect x="450" y="471" width="1" height="4" fill="#d2d2d2"/>
<rect x="470" y="471" width="1" height="4" fill="#d2d2d2"/>
<rect x="490" y="471" width="1" height="4" fill="#d2d2d2"/>
<rect x="510" y="471" width="1" height="4" fill="#d2d2d2"/>
<rect x="530" y="471" width="1" height="4" fill="#d2d2d2"/>
<rect x="550" y="471" width="1" height="4" fill="#d2d2d2"/>
<rect x="570" y="471" width="1" height="4" fill="#d2d2d2"/>
<rect x="590" y="471" width="1" height="4" fill="#d2d2d2"/>
<rect x="610" y="471" width="1" height="4" fill="#d2d2d2"/>
<rect x="630" y="471" width="1" height="4" fill="#d2d2d2"/>
<rect x="650" y="471" width="1" height="4" fill="#d2d2d2"/>
<rect x="670" y="471" width="1" height="4" fill="#d2d2d2"/>
<rect x="690" y="471" width="1" height="4" fill="#d2d2d2"/>
<rect x="710" y="471" width="1" height="4" fill="#d2d2d2"/>
<rect x="730" y="471" width="1" height="4" fill="#d2d2d2"/>
<rect x="750" y="471" width="1" height="4" fill="#d2d2d2"/>
<rect x="770" y="471" width="1" height="4" fill="#d2d2d2"/>
<rect x="790" y="471" width="1" height="4" fill="#d2d2d2"/>
<rect x="810" y="471" width="1" height="4" fill="#d2d2d2"/>
<rect x="830" y="471" width="1" height="4" fill="#d2d2d2"/>
<rect x="850" y="471" width="1" height="4" fill="#d2d2d2"/>
<rect x="870" y="471" width="1" height="4" fill="#d2d2d2"/>
<rect x="890" y="471" width="1" height="4" fill="#d2d2d2"/>
<rect x="910" y="471" width="1" height="4" fill="#d2d2d2"/>
</g>
<text transform="translate(480.50,22.70) scale(0.975,1.09)" text-anchor="middle">Country</text>
<text transform="translate(54.00,223.80) scale(1.0,1.09)">Avg. 12.70</text>
<text transform="translate(43.20,40.70) scale(0.975,1.09)" text-anchor="end">0</text>
<text transform="translate(43.20,111.70) scale(0.975,1.09)" text-anchor="end">5</text>
<text transform="translate(43.20,190.70) scale(0.975,1.09)" text-anchor="end">10</text>
<text transform="translate(43.20,268.70) scale(0.975,1.09)" text-anchor="end">15</text>
<text transform="translate(43.20,347.70) scale(0.975,1.09)" text-anchor="end">20</text>
<text transform="translate(43.20,426.70) scale(0.975,1.09)" text-anchor="end">25</text>
<text transform="translate(22.00,279.90) rotate(-90) scale(1.015,1.0)">Avg. Place</text>
<g fill="#30425e" shape-rendering="crispEdges">
<rect x="13" y="189" width="3" height="3"/>
<rect x="17" y="186" width="3" height="6"/>
<rect x="21" y="182" width="3" height="10"/>
</g>
<g transform="translate(17.9,206.0) rotate(45)" fill="#5e6e87">
<path d="M-4.05,-4.6 h8.1 v1.2 h-1.75 v3.6 l2.2,2.4 v0.9 h-9 v-0.9 l2.2,-2.4 v-3.6 h-1.75 z"/>
<path d="M-0.6,3.5 h1.2 l-0.25,4.95 h-0.7 z"/>
</g>
<text class="b" transform="translate(64.20,475.60) rotate(-90) scale(0.988,1.0)" text-anchor="end">Azerbaijan</text>
<text class="b" transform="translate(84.20,475.60) rotate(-90) scale(0.988,1.0)" text-anchor="end">Serbia and Montenegro</text>
<text class="b" transform="translate(104.20,475.60) rotate(-90) scale(0.988,1.0)" text-anchor="end">Bulgaria</text>
<text class="b" transform="translate(124.20,475.60) rotate(-90) scale(0.988,1.0)" text-anchor="end">Italy</text>
<text class="b" transform="translate(144.20,475.60) rotate(-90) scale(0.988,1.0)" text-anchor="end">Armenia</text>
<text class="b" transform="translate(164.20,475.60) rotate(-90) scale(0.988,1.0)" text-anchor="end">Serbia</text>
<text class="b" transform="translate(184.20,475.60) rotate(-90) scale(0.988,1.0)" text-anchor="end">Russia</text>
<text class="b" transform="translate(204.20,475.60) rotate(-90) scale(0.988,1.0)" text-anchor="end">Turkey</text>
<text class="b" transform="translate(224.20,475.60) rotate(-90) scale(0.988,1.0)" text-anchor="end">Ukraine</text>
<text class="b" transform="translate(244.20,475.60) rotate(-90) scale(0.988,1.0)" text-anchor="end">Sweden</text>
<text class="b" transform="translate(264.20,475.60) rotate(-90) scale(0.988,1.0)" text-anchor="end">Greece</text>
<text class="b" transform="translate(284.20,475.60) rotate(-90) scale(0.988,1.0)" text-anchor="end">Estonia</text>
<text class="b" transform="translate(304.20,475.60) rotate(-90) scale(0.988,1.0)" text-anchor="end">Georgia</text>
<text class="b" transform="translate(324.20,475.60) rotate(-90) scale(0.988,1.0)" text-anchor="end">Denmark</text>
<text class="b" transform="translate(344.20,475.60) rotate(-90) scale(0.988,1.0)" text-anchor="end">Bosnia and Herzegovina</text>
<text class="b" transform="translate(364.20,475.60) rotate(-90) scale(0.988,1.0)" text-anchor="end">Croatia</text>
<text class="b" transform="translate(384.20,475.60) rotate(-90) scale(0.988,1.0)" text-anchor="end">Latvia</text>
<text class="b" transform="translate(404.20,475.60) rotate(-90) scale(0.988,1.0)" text-anchor="end">Germany</text>
<text class="b" transform="translate(424.20,475.60) rotate(-90) scale(0.988,1.0)" text-anchor="end">Belgium</text>
<text class="b" transform="translate(444.20,475.60) rotate(-90) scale(0.988,1.0)" text-anchor="end">Netherlands</text>
<text class="b" transform="translate(464.20,475.60) rotate(-90) scale(0.988,1.0)" text-anchor="end">Israel</text>
<text class="b" transform="translate(484.20,475.60) rotate(-90) scale(0.988,1.0)" text-anchor="end">Albania</text>
<text class="b" transform="translate(504.20,475.60) rotate(-90) scale(0.988,1.0)" text-anchor="end">Romania</text>
<text class="b" transform="translate(524.20,475.60) rotate(-90) scale(0.988,1.0)" text-anchor="end">Malta</text>
<text class="b" transform="translate(544.20,475.60) rotate(-90) scale(0.988,1.0)" text-anchor="end">Norway</text>
<text class="b" transform="translate(564.20,475.60) rotate(-90) scale(0.988,1.0)" text-anchor="end">Moldova</text>
<text class="b" transform="translate(584.20,475.60) rotate(-90) scale(0.988,1.0)" text-anchor="end">Iceland</text>
<text class="b" transform="translate(604.20,475.60) rotate(-90) scale(0.988,1.0)" text-anchor="end">Slovenia</text>
<text class="b" transform="translate(624.20,475.60) rotate(-90) scale(0.988,1.0)" text-anchor="end">Austria</text>
<text class="b" transform="translate(644.20,475.60) rotate(-90) scale(0.988,1.0)" text-anchor="end">Belarus</text>
<text class="b" transform="translate(664.20,475.60) rotate(-90) scale(0.988,1.0)" text-anchor="end">Macedonia</text>
<text class="b" transform="translate(684.20,475.60) rotate(-90) scale(0.988,1.0)" text-anchor="end">Ireland</text>
<text class="b" transform="translate(704.20,475.60) rotate(-90) scale(0.988,1.0)" text-anchor="end">Cyprus</text>
<text class="b" transform="translate(724.20,475.60) rotate(-90) scale(0.988,1.0)" text-anchor="end">Spain</text>
<text class="b" transform="translate(744.20,475.60) rotate(-90) scale(0.988,1.0)" text-anchor="end">United Kingdom</text>
<text class="b" transform="translate(764.20,475.60) rotate(-90) scale(0.988,1.0)" text-anchor="end">France</text>
<text class="b" transform="translate(784.20,475.60) rotate(-90) scale(0.988,1.0)" text-anchor="end">Portugal</text>
<text class="b" transform="translate(804.20,475.60) rotate(-90) scale(0.988,1.0)" text-anchor="end">Poland</text>
<text class="b" transform="translate(824.20,475.60) rotate(-90) scale(0.988,1.0)" text-anchor="end">Finland</text>
<text class="b" transform="translate(844.20,475.60) rotate(-90) scale(0.988,1.0)" text-anchor="end">Lithuania</text>
<text class="b" transform="translate(864.20,475.60) rotate(-90) scale(0.988,1.0)" text-anchor="end">Hungary</text>
<text class="b" transform="translate(884.20,475.60) rotate(-90) scale(0.988,1.0)" text-anchor="end">Switzerland</text>
<text class="b" transform="translate(904.20,475.60) rotate(-90) scale(0.988,1.0)" text-anchor="end">Slovakia</text>
</svg>
</body></html>
